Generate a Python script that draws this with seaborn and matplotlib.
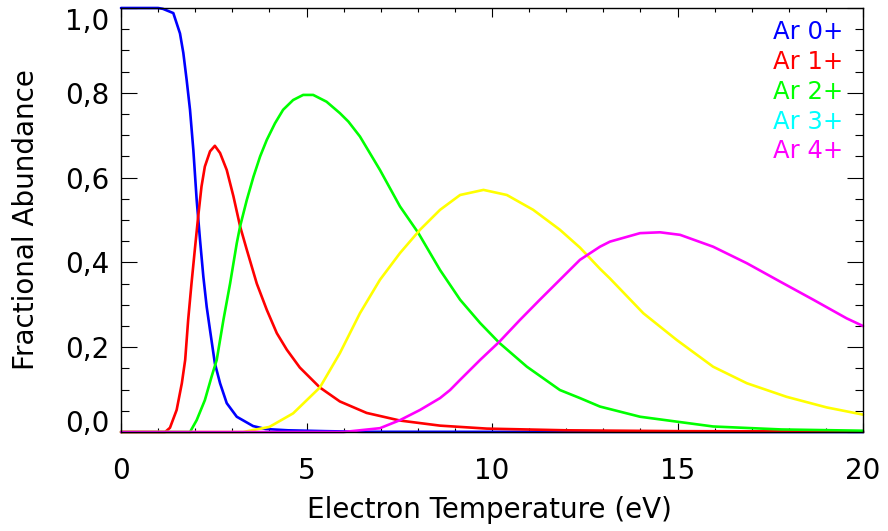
import numpy as np
import pandas as pd
import matplotlib
matplotlib.use("Agg")
import matplotlib.pyplot as plt
from matplotlib.ticker import MultipleLocator, FixedLocator, FixedFormatter
import seaborn as sns

# ---- data ----
T0 = [0, 1.0, 1.13, 1.41, 1.59, 1.68, 1.77, 1.86, 1.95, 2.04, 2.13, 2.22, 2.31, 2.40, 2.53, 2.67,
      2.85, 3.12, 3.56, 3.9, 4.5, 5.5, 6.5, 20]
F0 = [1.0, 1.0, 0.998, 0.988, 0.94, 0.894, 0.83, 0.76, 0.665, 0.547, 0.453, 0.366, 0.295, 0.24,
      0.162, 0.115, 0.068, 0.036, 0.014, 0.007, 0.004, 0.002, 0.0005, 0.0]

T1 = [0, 1.19, 1.32, 1.50, 1.64, 1.73, 1.81, 1.90, 1.99, 2.08, 2.17, 2.26, 2.40, 2.53, 2.67, 2.85,
      3.03, 3.21, 3.39, 3.66, 3.93, 4.20, 4.47, 4.82, 5.36, 5.90, 6.62, 7.52, 8.6, 9.86, 12.0, 15.0, 20]
F1 = [0, 0, 0.01, 0.052, 0.115, 0.17, 0.264, 0.35, 0.43, 0.508, 0.579, 0.626, 0.662, 0.675, 0.658,
      0.618, 0.556, 0.485, 0.43, 0.35, 0.288, 0.233, 0.194, 0.152, 0.105, 0.072, 0.045, 0.027, 0.015,
      0.008, 0.004, 0.002, 0.001]

T2 = [0, 1.86, 2.04, 2.26, 2.44, 2.58, 2.76, 2.94, 3.12, 3.21, 3.39, 3.57, 3.75, 3.93, 4.15, 4.37,
      4.64, 4.91, 5.18, 5.54, 5.90, 6.13, 6.44, 6.98, 7.52, 8.01, 8.6, 9.14, 9.68, 10.2, 10.94, 11.83,
      12.37, 12.91, 13.99, 15.96, 17.8, 20]
F2 = [0, 0, 0.028, 0.075, 0.13, 0.17, 0.264, 0.35, 0.445, 0.485, 0.547, 0.602, 0.65, 0.689, 0.728,
      0.76, 0.783, 0.795, 0.795, 0.779, 0.752, 0.732, 0.697, 0.618, 0.532, 0.47, 0.382, 0.312, 0.257,
      0.21, 0.154, 0.099, 0.08, 0.06, 0.036, 0.013, 0.006, 0.003]

T3 = [0, 3.29, 4.0, 4.64, 5.36, 5.9, 6.44, 6.98, 7.52, 8.06, 8.6, 9.14, 9.77, 10.40, 11.11, 11.83,
      12.37, 12.91, 13.18, 14.08, 14.98, 15.96, 16.87, 17.94, 19.02, 20]
F3 = [0, 0, 0.012, 0.044, 0.105, 0.186, 0.28, 0.359, 0.422, 0.477, 0.524, 0.559, 0.571, 0.559, 0.524,
      0.477, 0.435, 0.385, 0.362, 0.28, 0.217, 0.154, 0.115, 0.083, 0.058, 0.041]

T4 = [0, 6.0, 6.98, 7.52, 8.06, 8.6, 8.87, 9.14, 9.68, 10.2, 10.75, 11.29, 11.83, 12.37, 12.91, 13.18,
      13.99, 14.53, 15.07, 15.96, 16.87, 17.76, 18.66, 19.56, 20]
F4 = [0, 0, 0.009, 0.028, 0.052, 0.08, 0.099, 0.123, 0.17, 0.213, 0.264, 0.312, 0.359, 0.406, 0.437,
      0.449, 0.469, 0.471, 0.465, 0.437, 0.398, 0.355, 0.312, 0.268, 0.25]

series_names = ["Ar 0+", "Ar 1+", "Ar 2+", "Ar 3+", "Ar 4+"]
line_colors = ["#0000ff", "#ff0000", "#00ff00", "#ffff00", "#ff00ff"]
legend_colors = ["#0000ff", "#ff0000", "#00ff00", "#00ffff", "#ff00ff"]

x_ticks = [0, 5, 10, 15, 20]
x_labels = ["0", "5", "10", "15", "20"]
y_ticks = [0.0, 0.2, 0.4, 0.6, 0.8, 1.0]
y_labels = ["0,0", "0,2", "0,4", "0,6", "0,8", "1,0"]

frames = []
for name, t, f in zip(series_names, [T0, T1, T2, T3, T4], [F0, F1, F2, F3, F4]):
    frames.append(pd.DataFrame({"T": t, "F": f, "ion": name}))
df = pd.concat(frames, ignore_index=True)

sns.set_style("ticks")
plt.rcParams["font.family"] = ["DejaVu Sans"]
plt.rcParams["text.color"] = "black"
plt.rcParams["axes.labelcolor"] = "black"

fig = plt.figure(figsize=(8.88, 5.31), dpi=100)
ax = fig.add_axes([121 / 888, 1 - 432 / 531, 742 / 888, 424 / 531])

sns.lineplot(data=df, x="T", y="F", hue="ion", palette=dict(zip(series_names, line_colors)),
             estimator=None, sort=True, linewidth=1.9, legend=False, ax=ax)
for ln in ax.get_lines():
    ln.set_clip_on(False)
    ln.set_solid_joinstyle("round")

ax.set_xlim(0, 20)
ax.set_ylim(0, 1.0)
ax.xaxis.set_major_locator(FixedLocator(x_ticks))
ax.xaxis.set_major_formatter(FixedFormatter(x_labels))
ax.yaxis.set_major_locator(FixedLocator(y_ticks))
ax.yaxis.set_major_formatter(FixedFormatter(y_labels))
ax.xaxis.set_minor_locator(MultipleLocator(1))
ax.yaxis.set_minor_locator(MultipleLocator(0.05))

ax.tick_params(axis="both", which="both", direction="in", top=True, right=True,
               width=0.8, color="black", labelcolor="black", labelsize=20)
ax.tick_params(axis="y", which="major", length=11.5, pad=8.5)
ax.tick_params(axis="y", which="minor", length=5.8)
ax.tick_params(axis="x", which="major", length=6.2, pad=18)
ax.tick_params(axis="x", which="minor", length=3.1)
for sp in ax.spines.values():
    sp.set_visible(True)
    sp.set_linewidth(1.0)
    sp.set_color("black")

fig.canvas.draw()
ylabs = ax.get_yticklabels()
ylabs[0].set_va("baseline")
ylabs[-1].set_va("top")

ax.set_xlabel("Electron Temperature (eV)", fontsize=20)
ax.set_ylabel("Fractional Abundance", fontsize=20)
ax.xaxis.set_label_coords(0.497, -0.151)
ax.yaxis.set_label_coords(-0.109, 0.5)

legend_y = [32, 62, 92, 122, 151]
for name, c, yp in zip(series_names, legend_colors, legend_y):
    ax.text((843 - 121) / 742, (432 - yp) / 424, name, color=c, fontsize=17.5,
            ha="right", va="center", transform=ax.transAxes)

fig.savefig("out.png", dpi=100)
